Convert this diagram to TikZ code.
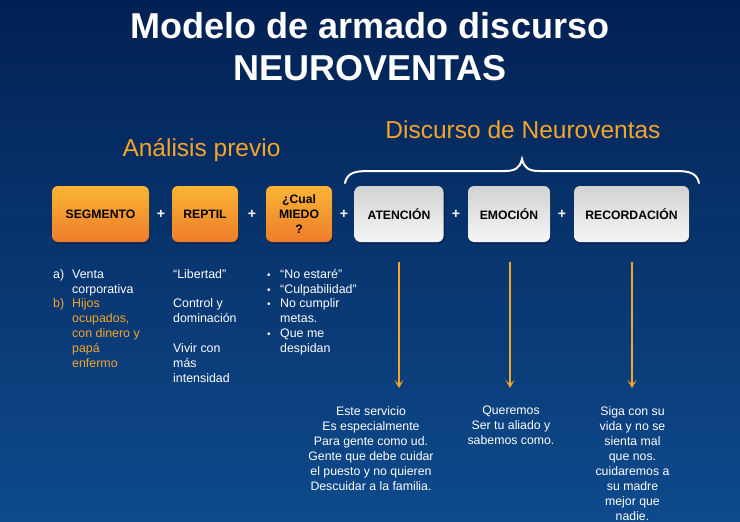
\documentclass[tikz,border=0pt]{standalone}
\usepackage{fontspec}
\setmainfont{Liberation Sans}
\usetikzlibrary{arrows.meta}
\definecolor{bgtop}{HTML}{022153}
\definecolor{bgbot}{HTML}{0E4A8C}
\definecolor{orangetxt}{HTML}{F4A52A}
\definecolor{boxtop}{HTML}{F9B534}
\definecolor{boxbot}{HTML}{EF7C2A}
\definecolor{graytop}{HTML}{D2D2D2}
\definecolor{graybot}{HTML}{F6F6F6}
\newcommand{\blt}{{\fontsize{10}{10}\selectfont •}}
\tikzset{
  obox/.style={rounded corners=6pt, top color=boxtop, bottom color=boxbot, draw=none,
    minimum height=56pt, inner sep=0pt, align=center,
    font=\fontsize{12.2}{15.3}\selectfont\bfseries, text=black},
  gbox/.style={rounded corners=6pt, top color=graytop, bottom color=graybot, draw=none,
    minimum height=56pt, inner sep=0pt, align=center,
    font=\fontsize{12.2}{15.3}\selectfont\bfseries, text=black},
  plus/.style={text=white, font=\fontsize{14}{14}\selectfont\bfseries, inner sep=0pt},
  listtxt/.style={text=white, anchor=north west, inner sep=0pt, align=left,
    font=\fontsize{12.4}{14.9}\selectfont},
  bottxt/.style={text=white, anchor=north, inner sep=0pt, align=center,
    font=\fontsize{12.3}{15}\selectfont},
  arr/.style={draw=orangetxt, line width=1.6pt,
    -{Stealth[length=8pt,width=9pt,inset=4pt]}},
  shadowbox/.style={rounded corners=6pt, fill=black, fill opacity=0.25, draw=none}
}
\begin{document}
\begin{tikzpicture}[x=1pt,y=-1pt]
\shade[top color=bgtop, bottom color=bgbot] (0,0) rectangle (740,522);
\useasboundingbox (0,0) rectangle (740,522);

% title
\node[text=white, font=\fontsize{36}{42}\selectfont\bfseries, align=center] (title) at (370,47)
  {Modelo de armado discurso\\NEUROVENTAS};

\node[text=orangetxt, font=\fontsize{24.5}{26}\selectfont] (analisis) at (201.5,150) {Análisis previo};
\node[text=orangetxt, font=\fontsize{24.5}{26}\selectfont] (discurso) at (523,130) {Discurso de Neuroventas};

% brace
\draw[white, line width=2pt, line cap=round]
  (345,183) .. controls (347,173) and (355,171) .. (368,171) -- (505,171)
  .. controls (515,171) and (520,168) .. (522,159)
  .. controls (524,168) and (529,171) .. (539,171) -- (676,171)
  .. controls (689,171) and (697,173) .. (699,183);

% shadows
\foreach \a/\b in {52/149,172/238,266/332,355/444,468/550,574/689}
  \fill[shadowbox] (\a+1,188) rectangle (\b+1,244);

% boxes
\node[obox, minimum width=97pt] (segmento) at (100.5,214) {SEGMENTO};
\node[obox, minimum width=66pt] (reptil) at (205,214) {REPTIL};
\node[obox, minimum width=66pt] (miedo) at (299,214) {¿Cual\\MIEDO\\?};
\node[gbox, minimum width=89pt] (atencion) at (399,214) {ATENCIÓN};
\node[gbox, minimum width=82pt] (emocion) at (509,214) {EMOCIÓN};
\node[gbox, minimum width=115pt] (recordacion) at (631.5,214) {RECORDACIÓN};

% plus signs
\node[plus] (p1) at (161,214) {+};
\node[plus] (p2) at (252,214) {+};
\node[plus] (p3) at (344,214) {+};
\node[plus] (p4) at (456,214) {+};
\node[plus] (p5) at (562,214) {+};

% lists
\node[listtxt] (l1) at (53,267.5) {\strut a)\\[14.9pt]\textcolor{orangetxt}{b)}};
\node[listtxt] (l1b) at (72,267.5) {\strut Venta\\corporativa\\\textcolor{orangetxt}{Hijos}\\
  \textcolor{orangetxt}{ocupados,}\\\textcolor{orangetxt}{con dinero y}\\
  \textcolor{orangetxt}{papá}\\\textcolor{orangetxt}{enfermo}};
\node[listtxt] (l2) at (173,267.5) {\strut “Libertad”\\[14.9pt]Control y\\dominación\\[14.9pt]Vivir con\\más\\intensidad};
\node[listtxt] (l3) at (267,267.5) {\strut\blt\\\blt\\\blt\\[14.9pt]\blt};
\node[listtxt] (l3b) at (280,267.5) {\strut “No estaré”\\“Culpabilidad”\\No cumplir\\metas.\\Que me\\despidan};

% bottom texts
\node[bottxt] (t1) at (371,406) {Este servicio\\Es especialmente\\Para gente como ud.\\Gente que debe cuidar\\el puesto y no quieren\\Descuidar a la familia.};
\node[bottxt] (t2) at (511,406) {Queremos\\Ser tu aliado y\\sabemos como.};
\node[bottxt] (t3) at (632.5,406) {Siga con su\\vida y no se\\sienta mal\\que nos.\\cuidaremos a\\su madre\\mejor que\\nadie.};

% arrows
\coordinate (e1) at (399,388);
\coordinate (e2) at (510,388);
\coordinate (e3) at (632,388);
\draw[arr, shorten <=20pt] (atencion.south) -- (e1);
\draw[arr, shorten <=20pt] ([xshift=1pt]emocion.south) -- (e2);
\draw[arr, shorten <=20pt] ([xshift=0.5pt]recordacion.south) -- (e3);
\end{tikzpicture}
\end{document}
